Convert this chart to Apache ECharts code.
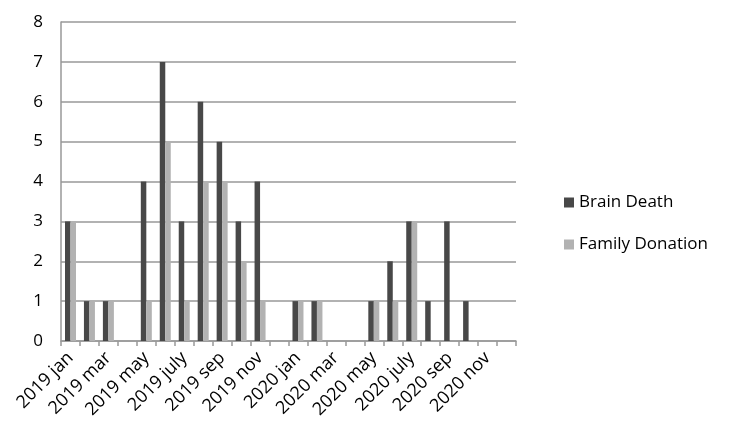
<!DOCTYPE html>
<html>
<head>
<meta charset="utf-8">
<script src="https://cdn.jsdelivr.net/npm/echarts@6/dist/echarts.min.js"></script>
<style>
  html, body { margin: 0; padding: 0; background: #fff; }
  #chart { width: 737px; height: 442px; }
</style>
</head>
<body>
<div id="chart"></div>
<script>
// months, jan 2019 .. dec 2020
const months = [
  '2019 jan', '2019 feb', '2019 mar', '2019 apr', '2019 may', '2019 jun',
  '2019 july', '2019 aug', '2019 sep', '2019 oct', '2019 nov', '2019 dec',
  '2020 jan', '2020 feb', '2020 mar', '2020 apr', '2020 may', '2020 jun',
  '2020 july', '2020 aug', '2020 sep', '2020 oct', '2020 nov', '2020 dec'
]
const brainDeath = [3, 1, 1, 0, 4, 7, 3, 6, 5, 3, 4, 0, 1, 1, 0, 0, 1, 2, 3, 1, 3, 1, 0, 0]
const familyDonation = [3, 1, 1, 0, 1, 5, 1, 4, 4, 2, 1, 0, 1, 1, 0, 0, 1, 1, 3, 0, 0, 0, 0, 0]

const font = '"Open Sans", sans-serif'
const gridColor = '#999999'

let myChart = echarts.init(document.getElementById('chart'))
myChart.setOption({
  animation: false,
  textStyle: { fontFamily: font },
  grid: {
    left: 61,
    right: 221,
    top: 22,
    bottom: 101
  },
  legend: {
    orient: 'vertical',
    left: 559,
    top: 189,
    itemWidth: 10,
    itemHeight: 10,
    itemGap: 25,
    icon: 'rect',
    textStyle: { fontSize: 17, color: '#000', fontFamily: font },
    data: ['Brain Death', 'Family Donation']
  },
  xAxis: {
    type: 'category',
    data: months,
    axisLine: { lineStyle: { color: gridColor, width: 1.5 } },
    axisTick: { show: true, interval: 0, length: 5, lineStyle: { color: gridColor, width: 1.5 } },
    axisLabel: {
      interval: 1,
      rotate: 45,
      fontSize: 18,
      color: '#000',
      margin: 14,
      fontFamily: font
    }
  },
  yAxis: {
    type: 'value',
    min: 0,
    max: 8,
    interval: 1,
    axisLine: { show: true, lineStyle: { color: gridColor, width: 1.5 } },
    axisTick: { show: false },
    axisLabel: { fontSize: 17, color: '#000', margin: 18, fontFamily: font },
    splitLine: { lineStyle: { color: gridColor, width: 1.5 } }
  },
  series: [{
    name: 'Brain Death',
    type: 'bar',
    data: brainDeath,
    itemStyle: { color: '#484848' },
    barGap: '0%',
    barCategoryGap: '42%'
  }, {
    name: 'Family Donation',
    type: 'bar',
    data: familyDonation,
    itemStyle: { color: '#b2b2b2' },
    barGap: '0%',
    barCategoryGap: '42%'
  }]
})
</script>
</body>
</html>
